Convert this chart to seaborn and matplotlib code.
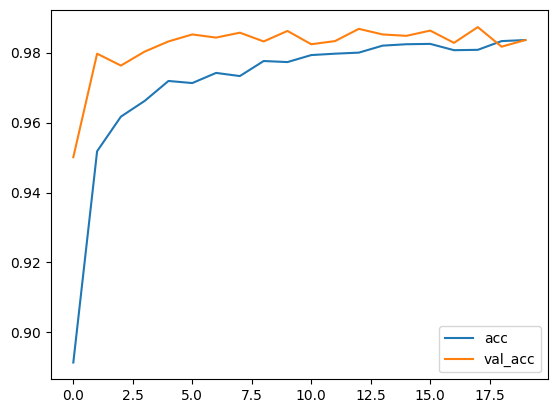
import numpy as np
import pandas as pd
import seaborn as sns
import matplotlib
matplotlib.use("Agg")
import matplotlib.pyplot as plt

# training history
epochs = list(range(20))
acc = [0.8914, 0.9518, 0.9617, 0.9662, 0.9719, 0.9713, 0.9742, 0.9733, 0.9776, 0.9773,
       0.9793, 0.9797, 0.9800, 0.9820, 0.9824, 0.9825, 0.9807, 0.9808, 0.9833, 0.9836]
val_acc = [0.9501, 0.9797, 0.9763, 0.9803, 0.9832, 0.9852, 0.9843, 0.9857, 0.9832, 0.9862,
           0.9824, 0.9833, 0.9868, 0.9852, 0.9848, 0.9863, 0.9828, 0.9873, 0.9817, 0.9836]

hist = pd.DataFrame({"epoch": epochs, "acc": acc, "val_acc": val_acc})

fig, ax = plt.subplots(figsize=(5.56, 4.13), dpi=100)
fig.subplots_adjust(left=0.0912, right=0.9856, top=0.975, bottom=0.0816)

sns.lineplot(data=hist, x="epoch", y="acc", label="acc", color="tab:blue", ax=ax)
sns.lineplot(data=hist, x="epoch", y="val_acc", label="val_acc", color="tab:orange", ax=ax)

ax.set_xlabel("")
ax.set_ylabel("")
ax.legend(loc="lower right")

fig.savefig("out.png", dpi=100)
plt.close()
